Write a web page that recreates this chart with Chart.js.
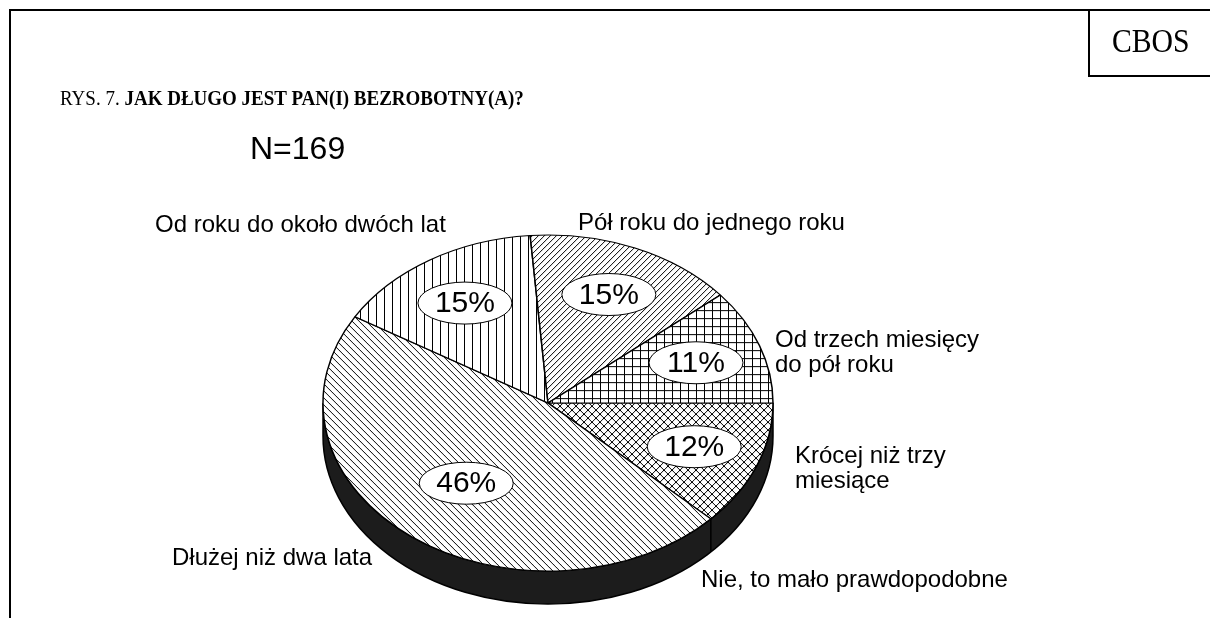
<!DOCTYPE html>
<html>
<head>
<meta charset="utf-8">
<script src="https://cdn.jsdelivr.net/npm/chart.js@4/dist/chart.umd.min.js"></script>
<style>
  html, body { margin: 0; padding: 0; background: #fff; overflow: hidden; }
  body { width: 1210px; height: 618px; position: relative; }
  #c { position: absolute; left: 0; top: 0; }
  .frame { position: absolute; left: 9px; top: 9px; width: 1300px; height: 700px;
           border-top: 2.5px solid #000; border-left: 2.5px solid #000; }
  .cbos { position: absolute; left: 1088px; top: 9px; width: 200px; height: 64px;
          border: 2.5px solid #000; }
  .txt { position: absolute; white-space: nowrap; line-height: 1; color: #000; }
  .serif { font-family: "Liberation Serif", "Times New Roman", serif; }
  .sans { font-family: "Liberation Sans", Arial, sans-serif; }
</style>
</head>
<body>
<canvas id="c" width="1210" height="700"></canvas>
<div class="frame"></div>
<div class="cbos"></div>
<div class="txt serif" style="left:1112px; top:25px; font-size:33px; transform:scaleX(0.9); transform-origin:left;">CBOS</div>
<div class="txt serif" style="left:60px; top:88px; font-size:20px; transform:scaleX(0.95); transform-origin:left;">RYS. 7. <b>JAK DŁUGO JEST PAN(I) BEZROBOTNY(A)?</b></div>
<div class="txt sans" style="left:250px; top:132px; font-size:32px;">N=169</div>
<script>
// Data, clockwise from 3 o'clock
const categories = [
  ['Krócej niż trzy', 'miesiące'],
  ['Nie, to mało prawdopodobne'],
  ['Dłużej niż dwa lata'],
  ['Od roku do około dwóch lat'],
  ['Pół roku do jednego roku'],
  ['Od trzech miesięcy', 'do pół roku']
];
const values = [12, 0, 46, 15, 15, 11];
const pctLabels = ['12%', '', '46%', '15%', '15%', '11%'];

// layout: outer label anchor offsets from pie centre (left edge, first baseline)
const labelOffsets = [[247, 60], [153, 184], [-376, 162], [-393, -171], [30, -173], [227, -56]];

const k = 168 / 225;   // vertical squash of the pie top
const depth = 33;      // height of the side wall

const canvas = document.getElementById('c');
const ctx = canvas.getContext('2d');

function tile(size, draw) {
  const c = document.createElement('canvas');
  c.width = c.height = size;
  const g = c.getContext('2d');
  g.fillStyle = '#fff';
  g.fillRect(0, 0, size, size);
  g.strokeStyle = '#000';
  g.lineWidth = 1;
  g.beginPath();
  draw(g, size);
  g.stroke();
  const p = ctx.createPattern(c, 'repeat');
  p.setTransform(new DOMMatrix([1, 0, 0, 1 / k, 0, 0]));
  return p;
}
const fwd = (g, s) => { g.moveTo(-1, s + 1); g.lineTo(s + 1, -1); g.moveTo(-1, 1); g.lineTo(1, -1); g.moveTo(s - 1, s + 1); g.lineTo(s + 1, s - 1); };
const back = (g, s) => { g.moveTo(-1, -1); g.lineTo(s + 1, s + 1); g.moveTo(-1, s - 1); g.lineTo(1, s + 1); g.moveTo(s - 1, -1); g.lineTo(s + 1, 1); };

const fills = [
  tile(8, (g, s) => { fwd(g, s); back(g, s); }),
  '#1c1c1c',
  tile(7, back),
  tile(8, (g, s) => { g.moveTo(0.5, 0); g.lineTo(0.5, s); }),
  tile(6, fwd),
  tile(8, (g, s) => { g.moveTo(0.5, 0); g.lineTo(0.5, s); g.moveTo(0, 0.5); g.lineTo(s, 0.5); })
];

const pie3d = {
  id: 'pie3d',
  beforeDatasetsDraw(chart) {
    const arcs = chart.getDatasetMeta(0).data;
    const cx = arcs[0].x, cy = arcs[0].y, r = arcs[0].outerRadius, ry = r * k;
    const c = chart.ctx;
    c.save();
    c.fillStyle = '#1c1c1c';
    c.strokeStyle = '#000';
    c.lineWidth = 1.5;
    c.beginPath();
    c.moveTo(cx - r, cy);
    c.lineTo(cx - r, cy + depth);
    c.ellipse(cx, cy + depth, r, ry, 0, Math.PI, 0, true);
    c.lineTo(cx + r, cy);
    c.ellipse(cx, cy, r, ry, 0, 0, Math.PI, false);
    c.closePath();
    c.fill();
    c.stroke();
    // slice edges on the wall
    c.beginPath();
    arcs.forEach(a => {
      const ang = a.startAngle;
      if (Math.sin(ang) > 0.01) {
        const x = cx + r * Math.cos(ang), y = cy + ry * Math.sin(ang);
        c.moveTo(x, y);
        c.lineTo(x, y + depth);
      }
    });
    c.stroke();
    c.restore();
    c.save();
    c.translate(cx, cy);
    c.scale(1, k);
    c.translate(-cx, -cy);
  },
  afterDatasetsDraw(chart) {
    const c = chart.ctx;
    c.restore();
    const arcs = chart.getDatasetMeta(0).data;
    const cx = arcs[0].x, cy = arcs[0].y, r = arcs[0].outerRadius, ry = r * k;
    c.save();
    c.textBaseline = 'middle';
    c.textAlign = 'center';
    c.font = '30px "Liberation Sans", Arial, sans-serif';
    arcs.forEach((a, i) => {
      if (!pctLabels[i]) return;
      const mid = (a.startAngle + a.endAngle) / 2;
      const f = (a.endAngle - a.startAngle) > Math.PI / 2 ? 0.6 : 0.7;
      const x = cx + r * f * Math.cos(mid), y = cy + ry * f * Math.sin(mid);
      c.beginPath();
      c.ellipse(x, y, 47, 21, 0, 0, Math.PI * 2);
      c.fillStyle = '#fff';
      c.fill();
      c.lineWidth = 1;
      c.strokeStyle = '#000';
      c.stroke();
      c.fillStyle = '#000';
      c.fillText(pctLabels[i], x, y + 1);
    });
    c.textBaseline = 'alphabetic';
    c.textAlign = 'left';
    c.font = '24px "Liberation Sans", Arial, sans-serif';
    categories.forEach((lines, i) => {
      const [dx, dy] = labelOffsets[i];
      lines.forEach((t, j) => c.fillText(t, cx + dx, cy + dy + j * 25));
    });
    c.restore();
  }
};

new Chart(ctx, {
  type: 'pie',
  data: {
    labels: categories.map(l => l.join(' ')),
    datasets: [{
      data: values,
      backgroundColor: fills,
      borderColor: '#000',
      borderWidth: 1.5,
      clip: false
    }]
  },
  options: {
    responsive: false,
    animation: false,
    rotation: 90,
    radius: 225,
    layout: { padding: { left: 323, right: 437, top: 178, bottom: 72 } },
    plugins: {
      legend: { display: false },
      tooltip: { enabled: false }
    }
  },
  plugins: [pie3d]
});
</script>
</body>
</html>
